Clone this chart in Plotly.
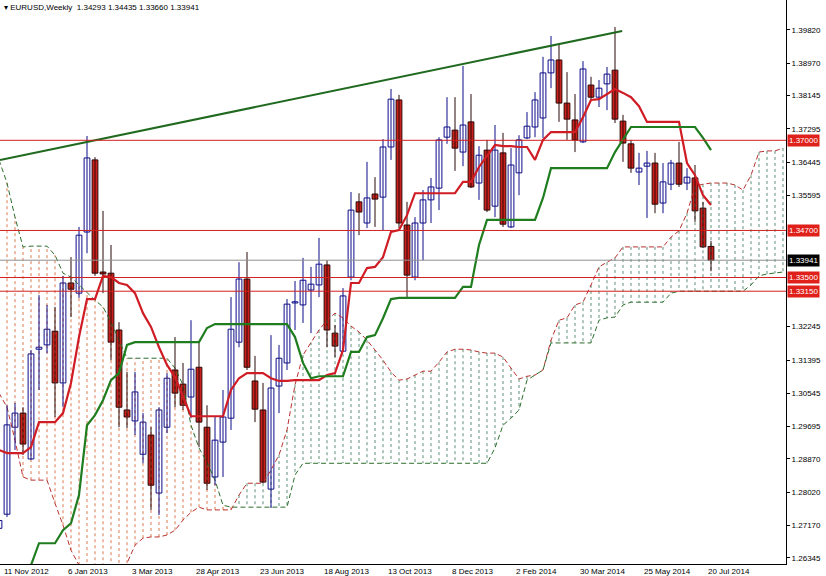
import numpy as np
import plotly.graph_objects as go

# weekly EURUSD, bar 0 = week of 11 Nov 2012
OPEN = [1.2710, 1.2746, 1.2968, 1.3004, 1.2887, 1.3167, 1.3178, 1.3213, 1.3081, 1.3336,
        1.3310, 1.3466, 1.3650, 1.3364, 1.3361, 1.3216, 1.3012, 1.2984, 1.2899, 1.2948,
        1.2800, 1.2968, 1.3114, 1.3078, 1.3045, 1.3121, 1.2968, 1.2841, 1.2930, 1.2991,
        1.3185, 1.3346, 1.3086, 1.3012, 1.2810, 1.3073, 1.3132, 1.3285, 1.3280, 1.3318,
        1.3331, 1.3382, 1.3208, 1.3162, 1.3351, 1.3543, 1.3489, 1.3563, 1.3555, 1.3683,
        1.3803, 1.3484, 1.3351, 1.3489, 1.3548, 1.3578, 1.3708, 1.3726, 1.3670, 1.3747,
        1.3591, 1.3675, 1.3532, 1.3668, 1.3479, 1.3617, 1.3706, 1.3734, 1.3757, 1.3872,
        1.3905, 1.3795, 1.3752, 1.3696, 1.3841, 1.3810, 1.3844, 1.3879, 1.3749, 1.3691,
        1.3619, 1.3634, 1.3642, 1.3540, 1.3588, 1.3642, 1.3591, 1.3604, 1.3527, 1.34293]
HIGH = [1.2740, 1.3024, 1.3030, 1.3019, 1.3165, 1.3305, 1.3280, 1.3275, 1.3354, 1.3402,
        1.3479, 1.3711, 1.3657, 1.3520, 1.3433, 1.3236, 1.3109, 1.3109, 1.3004, 1.2968,
        1.3019, 1.3106, 1.3198, 1.3132, 1.3241, 1.3183, 1.3024, 1.2994, 1.3063, 1.3300,
        1.3389, 1.3415, 1.3150, 1.3081, 1.3203, 1.3178, 1.3295, 1.3341, 1.3400, 1.3377,
        1.3451, 1.3394, 1.3229, 1.3323, 1.3568, 1.3565, 1.3645, 1.3606, 1.3703, 1.3831,
        1.3816, 1.3543, 1.3504, 1.3573, 1.3604, 1.3708, 1.3810, 1.3810, 1.3890, 1.3818,
        1.3685, 1.3701, 1.3739, 1.3719, 1.3680, 1.3713, 1.3772, 1.3823, 1.3913, 1.3966,
        1.3943, 1.3874, 1.3818, 1.3902, 1.3862, 1.3854, 1.3887, 1.3989, 1.3765, 1.3701,
        1.3668, 1.3673, 1.3668, 1.3642, 1.3650, 1.3696, 1.3629, 1.3637, 1.3543, 1.34435]
LOW = [1.2700, 1.2739, 1.2910, 1.2897, 1.2884, 1.3063, 1.3157, 1.2994, 1.3019, 1.3249,
       1.3298, 1.3412, 1.3354, 1.3310, 1.3139, 1.2968, 1.2966, 1.2948, 1.2876, 1.2757,
       1.2744, 1.2953, 1.3019, 1.3012, 1.2991, 1.2917, 1.2808, 1.2820, 1.2841, 1.2961,
       1.3172, 1.3114, 1.2981, 1.2825, 1.2762, 1.3004, 1.3114, 1.3216, 1.3234, 1.3208,
       1.3300, 1.3172, 1.3147, 1.3160, 1.3343, 1.3458, 1.3476, 1.3479, 1.3471, 1.3650,
       1.3476, 1.3298, 1.3343, 1.3394, 1.3489, 1.3522, 1.3691, 1.3622, 1.3634, 1.3578,
       1.3548, 1.3517, 1.3504, 1.3479, 1.3476, 1.3560, 1.3703, 1.3708, 1.3706, 1.3833,
       1.3747, 1.3701, 1.3670, 1.3693, 1.3803, 1.3785, 1.3777, 1.3744, 1.3645, 1.3617,
       1.3586, 1.3502, 1.3514, 1.3514, 1.3573, 1.3581, 1.3573, 1.3492, 1.3425, 1.33660]
CLOSE = [1.2730, 1.2974, 1.3004, 1.2925, 1.3155, 1.3172, 1.3218, 1.3081, 1.3336, 1.3320,
         1.3458, 1.3655, 1.3361, 1.3359, 1.3185, 1.3019, 1.2994, 1.3058, 1.2981, 1.2820,
         1.3012, 1.3093, 1.3055, 1.3024, 1.3116, 1.2981, 1.2825, 1.2935, 1.2994, 1.3218,
         1.3346, 1.3121, 1.3014, 1.2828, 1.3068, 1.3144, 1.3282, 1.3288, 1.3343, 1.3333,
         1.3384, 1.3216, 1.3175, 1.3303, 1.3522, 1.3517, 1.3553, 1.3550, 1.3683, 1.3805,
         1.3489, 1.3356, 1.3489, 1.3548, 1.3581, 1.3701, 1.3734, 1.3680, 1.3739, 1.3581,
         1.3662, 1.3522, 1.3675, 1.3486, 1.3637, 1.3701, 1.3736, 1.3803, 1.3872, 1.3905,
         1.3795, 1.3754, 1.3701, 1.3882, 1.3810, 1.3833, 1.3869, 1.3754, 1.3693, 1.3629,
         1.3629, 1.3642, 1.3537, 1.3594, 1.3642, 1.3588, 1.3606, 1.3520, 1.3428, 1.33941]

TENKAN = [1.2910, 1.2902, 1.2902, 1.2902, 1.2917, 1.2981, 1.2981, 1.2981, 1.3004, 1.3081,
          1.3198, 1.3295, 1.3295, 1.3354, 1.3351, 1.3336, 1.3331, 1.3310, 1.3259, 1.3224,
          1.3172, 1.3127, 1.3096, 1.3045, 1.2996, 1.2996, 1.2996, 1.2996, 1.2996, 1.3063,
          1.3093, 1.3106, 1.3106, 1.3106, 1.3093, 1.3086, 1.3086, 1.3088, 1.3088, 1.3088,
          1.3088, 1.3101, 1.3106, 1.3165, 1.3336, 1.3336, 1.3374, 1.3377, 1.3402, 1.3466,
          1.3471, 1.3509, 1.3565, 1.3565, 1.3565, 1.3565, 1.3565, 1.3565, 1.3594, 1.3594,
          1.3632, 1.3660, 1.3688, 1.3685, 1.3685, 1.3683, 1.3683, 1.3650, 1.3701, 1.3721,
          1.3721, 1.3721, 1.3721, 1.3759, 1.3803, 1.3805, 1.3818, 1.3831, 1.3821, 1.3810,
          1.3787, 1.3747, 1.3747, 1.3747, 1.3747, 1.3747, 1.3642, 1.3611, 1.3560, 1.3535]
KIJUN = [1.2520, 1.2540, 1.2565, 1.2590, 1.2616, 1.2672, 1.2672, 1.2672, 1.2705, 1.2723,
         1.2795, 1.2973, 1.2999, 1.3037, 1.3088, 1.3106, 1.3178, 1.3185, 1.3185, 1.3185,
         1.3185, 1.3185, 1.3185, 1.3185, 1.3185, 1.3185, 1.3221, 1.3231, 1.3231, 1.3231,
         1.3231, 1.3231, 1.3231, 1.3231, 1.3231, 1.3231, 1.3231, 1.3198, 1.3132, 1.3093,
         1.3098, 1.3098, 1.3098, 1.3098, 1.3160, 1.3160, 1.3198, 1.3203, 1.3246, 1.3295,
         1.3298, 1.3298, 1.3298, 1.3298, 1.3298, 1.3298, 1.3298, 1.3298, 1.3326, 1.3326,
         1.3433, 1.3497, 1.3497, 1.3497, 1.3497, 1.3497, 1.3497, 1.3497, 1.3553, 1.3629,
         1.3629, 1.3629, 1.3629, 1.3629, 1.3629, 1.3629, 1.3629, 1.3670, 1.3701, 1.3734,
         1.3734, 1.3734, 1.3734, 1.3734, 1.3734, 1.3734, 1.3734, 1.3734, 1.3706, 1.3675]
# cloud, drawn 26 bars ahead
SPAN_A = [1.3055, 1.3019, 1.2935, 1.2841, 1.2833, 1.2833, 1.2833, 1.2774, 1.2718, 1.2654,
          1.2616, 1.2578, 1.2552, 1.2552, 1.2565, 1.2591, 1.2621, 1.2667, 1.2685, 1.2688,
          1.2688, 1.2693, 1.2705, 1.2731, 1.2751, 1.2764, 1.2757, 1.2757, 1.2757, 1.2757,
          1.2795, 1.2825, 1.2825, 1.2825, 1.2859, 1.2897, 1.2961, 1.3076, 1.3152, 1.3185,
          1.3216, 1.3241, 1.3259, 1.3247, 1.3226, 1.3211, 1.3190, 1.3165, 1.3139, 1.3109,
          1.3088, 1.3091, 1.3101, 1.3111, 1.3111, 1.3134, 1.3160, 1.3167, 1.3167, 1.3165,
          1.3160, 1.3157, 1.3157, 1.3147, 1.3119, 1.3091, 1.3098, 1.3101, 1.3114, 1.3190,
          1.3241, 1.3247, 1.3280, 1.3287, 1.3331, 1.3377, 1.3389, 1.3400, 1.3428, 1.3428,
          1.3428, 1.3428, 1.3428, 1.3428, 1.3453, 1.3469, 1.3514, 1.3583, 1.3588, 1.3591,
          1.3591, 1.3591, 1.3586, 1.3573, 1.3611, 1.3670, 1.3673, 1.3673, 1.3680]
SPAN_B = [1.3650, 1.3591, 1.3504, 1.3428, 1.3430, 1.3430, 1.3430, 1.3407, 1.3361, 1.3351,
          1.3331, 1.3313, 1.3292, 1.3275, 1.3236, 1.3190, 1.3144, 1.3144, 1.3144, 1.3144,
          1.3144, 1.3144, 1.3119, 1.3076, 1.2973, 1.2915, 1.2879, 1.2833, 1.2769, 1.2764,
          1.2764, 1.2764, 1.2764, 1.2764, 1.2764, 1.2764, 1.2764, 1.2846, 1.2876, 1.2876,
          1.2876, 1.2876, 1.2876, 1.2876, 1.2876, 1.2876, 1.2876, 1.2876, 1.2876, 1.2876,
          1.2876, 1.2876, 1.2876, 1.2876, 1.2876, 1.2876, 1.2876, 1.2876, 1.2876, 1.2876,
          1.2876, 1.2876, 1.2915, 1.2973, 1.2991, 1.3012, 1.3088, 1.3101, 1.3114, 1.3183,
          1.3183, 1.3183, 1.3183, 1.3183, 1.3183, 1.3241, 1.3247, 1.3249, 1.3280, 1.3287,
          1.3287, 1.3287, 1.3287, 1.3287, 1.3310, 1.3315, 1.3315, 1.3315, 1.3315, 1.3315,
          1.3315, 1.3315, 1.3315, 1.3315, 1.3331, 1.3354, 1.3359, 1.3361, 1.3364]

DATE_LABELS = ["11 Nov 2012", "6 Jan 2013", "3 Mar 2013", "28 Apr 2013", "23 Jun 2013",
               "18 Aug 2013", "13 Oct 2013", "8 Dec 2013", "2 Feb 2014", "30 Mar 2014",
               "25 May 2014", "20 Jul 2014"]
PRICE_TICKS = [1.39820, 1.38970, 1.38145, 1.37295, 1.36445, 1.35595,
               1.32245, 1.31395, 1.30545, 1.29695, 1.28870, 1.28020, 1.27170, 1.26345]
RED_LEVELS = [1.37000, 1.34700, 1.33500, 1.33150]
LAST_PRICE = 1.33941
TREND = ([0.125, 77.9], [1.3650, 1.3979])

FONT = "Liberation Sans"
bars = np.arange(len(CLOSE))
cloud_x = np.arange(len(SPAN_A))

fig = go.Figure()

# cloud hatching
a, b = np.array(SPAN_A), np.array(SPAN_B)
for up, color in [(True, "#5f8f78"), (False, "#dc7a55")]:
    hx, hy = [], []
    for i in cloud_x:
        if (a[i] >= b[i]) == up:
            hx += [i, i, None]
            hy += [a[i], b[i], None]
    fig.add_trace(go.Scatter(x=hx, y=hy, mode="lines", hoverinfo="skip",
                             line=dict(color=color, width=1, dash="3px,3px")))

fig.add_trace(go.Scatter(x=cloud_x, y=SPAN_A, mode="lines",
                         line=dict(color="#b8322e", width=1, dash="5px,3px")))
fig.add_trace(go.Scatter(x=cloud_x, y=SPAN_B, mode="lines",
                         line=dict(color="#2c6e2c", width=1, dash="5px,3px")))

for lvl in RED_LEVELS:
    fig.add_hline(y=lvl, line=dict(color="#d21f1f", width=1))
fig.add_hline(y=LAST_PRICE, line=dict(color="#909090", width=1))

# candles: wicks + bodies
o, h, l, c = map(np.array, (OPEN, HIGH, LOW, CLOSE))
for up, body, edge in [(True, "white", "#0c0c88"), (False, "#cc1f1a", "#2a0808")]:
    idx = bars[(c >= o) == up]
    wx, wy = [], []
    for i in idx:
        wx += [i, i, None]
        wy += [l[i], h[i], None]
    fig.add_trace(go.Scatter(x=wx, y=wy, mode="lines", hoverinfo="skip",
                             line=dict(color=edge, width=1)))
    fig.add_trace(go.Bar(x=idx, y=np.maximum(np.abs(c[idx] - o[idx]), 0.0002),
                         base=np.minimum(o[idx], c[idx]), width=0.72,
                         marker=dict(color=body, line=dict(color=edge, width=1))))

fig.add_trace(go.Scatter(x=bars, y=TENKAN, mode="lines",
                         line=dict(color="#d01c24", width=2.2)))
fig.add_trace(go.Scatter(x=bars, y=KIJUN, mode="lines",
                         line=dict(color="#1f7d1f", width=2.2)))
fig.add_trace(go.Scatter(x=TREND[0], y=TREND[1], mode="lines",
                         line=dict(color="#1f6a1f", width=2)))

for k, lab in enumerate(DATE_LABELS):
    fig.add_annotation(x=8 * k + 0.375, y=0, xref="x", yref="paper", text=lab,
                       xanchor="left", yanchor="top", showarrow=False, yshift=-1,
                       font=dict(family=FONT, size=8, color="black"))

for lvl in RED_LEVELS:
    fig.add_annotation(x=1, y=lvl, xref="paper", yref="y", text=f"{lvl:.5f}",
                       xanchor="left", showarrow=False, xshift=1, bgcolor="#e0201a",
                       borderpad=1, font=dict(family=FONT, size=8, color="white"))
fig.add_annotation(x=1, y=LAST_PRICE, xref="paper", yref="y", text=f"{LAST_PRICE:.5f}",
                   xanchor="left", showarrow=False, xshift=1, bgcolor="black",
                   borderpad=1, font=dict(family=FONT, size=8, color="white"))

fig.add_annotation(x=0, y=1, xref="paper", yref="paper", xanchor="left", yanchor="top",
                   showarrow=False, xshift=2, yshift=-1,
                   text="▾ EURUSD,Weekly  1.34293 1.34435 1.33660 1.33941",
                   font=dict(family=FONT, size=8, color="black"))

fig.update_layout(
    width=826, height=576, showlegend=False, barmode="overlay",
    margin=dict(l=0, r=40, t=0, b=12, autoexpand=False),
    paper_bgcolor="white", plot_bgcolor="white",
    xaxis=dict(range=[0.125, 98.375], showgrid=False, zeroline=False, automargin=False,
               showticklabels=False,
               showline=True, linecolor="black", linewidth=1),
    yaxis=dict(range=[1.2619, 1.4058], side="right", showgrid=False, zeroline=False,
               automargin=False,
               tickvals=PRICE_TICKS, ticktext=[f"{v:.5f}" for v in PRICE_TICKS],
               ticks="outside", ticklen=3, tickcolor="black",
               showline=True, linecolor="black", linewidth=1,
               tickfont=dict(family=FONT, size=8, color="black")),
)

fig.write_html("out.html", config={"displayModeBar": False},
               post_script="document.body.style.margin='0';")
